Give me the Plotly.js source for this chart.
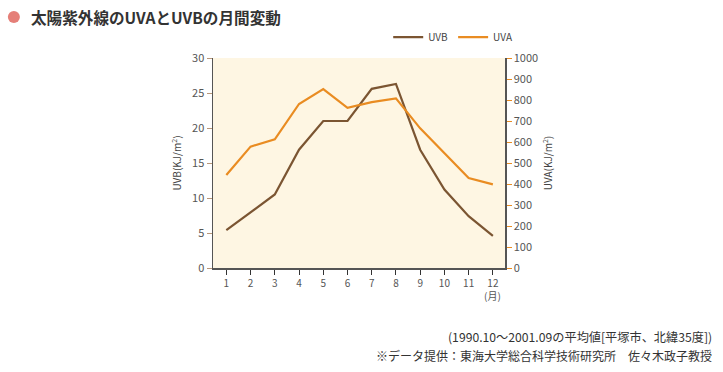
<!DOCTYPE html>
<html><head><meta charset="utf-8">
<script src="https://cdn.plot.ly/plotly-3.0.1.min.js"></script>
<style>html,body{margin:0;padding:0;background:#fff;}#chart{width:723px;height:372px;}</style>
</head><body><div id="chart"></div>
<script>
const months = [1,2,3,4,5,6,7,8,9,10,11,12];
const uvb = [5.4, 7.9, 10.5, 16.9, 21.0, 21.0, 25.6, 26.3, 16.9, 11.2, 7.4, 4.6];
const uva = [443, 578, 613, 781, 852, 763, 790, 808, 665, 548, 428, 398];
const monthLabels = ['1','2','3','4','5','6','7','8','9','10','11','12'];
const FONT = '"Noto Sans CJK JP", "Noto Sans", sans-serif';

const traces = [
  {x: months, y: uvb, name: 'UVB', type: 'scatter', mode: 'lines', line: {color: '#7b5532', width: 2.2}, yaxis: 'y'},
  {x: months, y: uva, name: 'UVA', type: 'scatter', mode: 'lines', line: {color: '#e98c22', width: 2.2}, yaxis: 'y2'}
];
const layout = {
  width: 723, height: 372,
  margin: {l: 213, r: 218, t: 58, b: 104},
  paper_bgcolor: '#ffffff', plot_bgcolor: '#fef6e3',
  font: {family: FONT, color: '#555', size: 11},
  showlegend: true,
  legend: {orientation: 'h', x: 0.6, y: 1.03, xanchor: 'left', yanchor: 'bottom', font: {size: 10, color: '#444'}, bgcolor: 'rgba(0,0,0,0)', itemwidth: 30},
  xaxis: {range: [0.45, 12.5], tickvals: months, ticktext: monthLabels, showgrid: false, zeroline: false,
    ticks: 'outside', ticklen: 5, tickcolor: '#333', showline: true, linecolor: '#555', linewidth: 1.5,
    tickfont: {size: 10, color: '#555'}, fixedrange: true},
  yaxis: {range: [0, 30], tickvals: [0,5,10,15,20,25,30], showgrid: false, zeroline: false,
    ticks: 'outside', ticklen: 5, tickcolor: '#b8977a', showline: true, linecolor: '#555', linewidth: 1.5,
    tickfont: {size: 11, color: '#555'},
    title: {text: 'UVB(KJ/m<sup>2</sup>)', font: {size: 10, color: '#444'}, standoff: 8}},
  yaxis2: {range: [0, 1000], tickvals: [0,100,200,300,400,500,600,700,800,900,1000], overlaying: 'y', side: 'right',
    showgrid: false, zeroline: false, ticks: 'outside', ticklen: 5, tickcolor: '#e98c22',
    showline: true, linecolor: '#555', linewidth: 1.5, tickfont: {size: 11, color: '#555'},
    title: {text: 'UVA(KJ/m<sup>2</sup>)', font: {size: 10, color: '#444'}, standoff: 8}},
  shapes: [
    {type: 'circle', xref: 'paper', yref: 'paper', xsizemode: 'pixel', ysizemode: 'pixel',
     xanchor: -0.682, yanchor: 1.195, x0: -6, x1: 6, y0: -6, y1: 6, fillcolor: '#e57f78', line: {width: 0}}
  ],
  annotations: [
    {xref: 'paper', yref: 'paper', x: -0.63, y: 1.195, xanchor: 'left', yanchor: 'middle', showarrow: false,
     text: '<b>太陽紫外線のUVAとUVBの月間変動</b>', font: {size: 15.6, color: '#333', family: FONT}},
    {xref: 'x', yref: 'paper', x: 12, y: -0.085, xanchor: 'center', yanchor: 'top', showarrow: false,
     text: '(月)', font: {size: 10, color: '#555'}},
    {xref: 'paper', yref: 'paper', x: 1.715, y: -0.33, xanchor: 'right', yanchor: 'middle', showarrow: false,
     text: '(1990.10～2001.09の平均値[平塚市、北緯35度])', font: {size: 12.2, color: '#333'}},
    {xref: 'paper', yref: 'paper', x: 1.715, y: -0.415, xanchor: 'right', yanchor: 'middle', showarrow: false,
     text: '※データ提供：東海大学総合科学技術研究所　佐々木政子教授', font: {size: 12, color: '#333'}}
  ]
};
Plotly.newPlot('chart', traces, layout, {displayModeBar: false, staticPlot: true});
</script></body></html>
